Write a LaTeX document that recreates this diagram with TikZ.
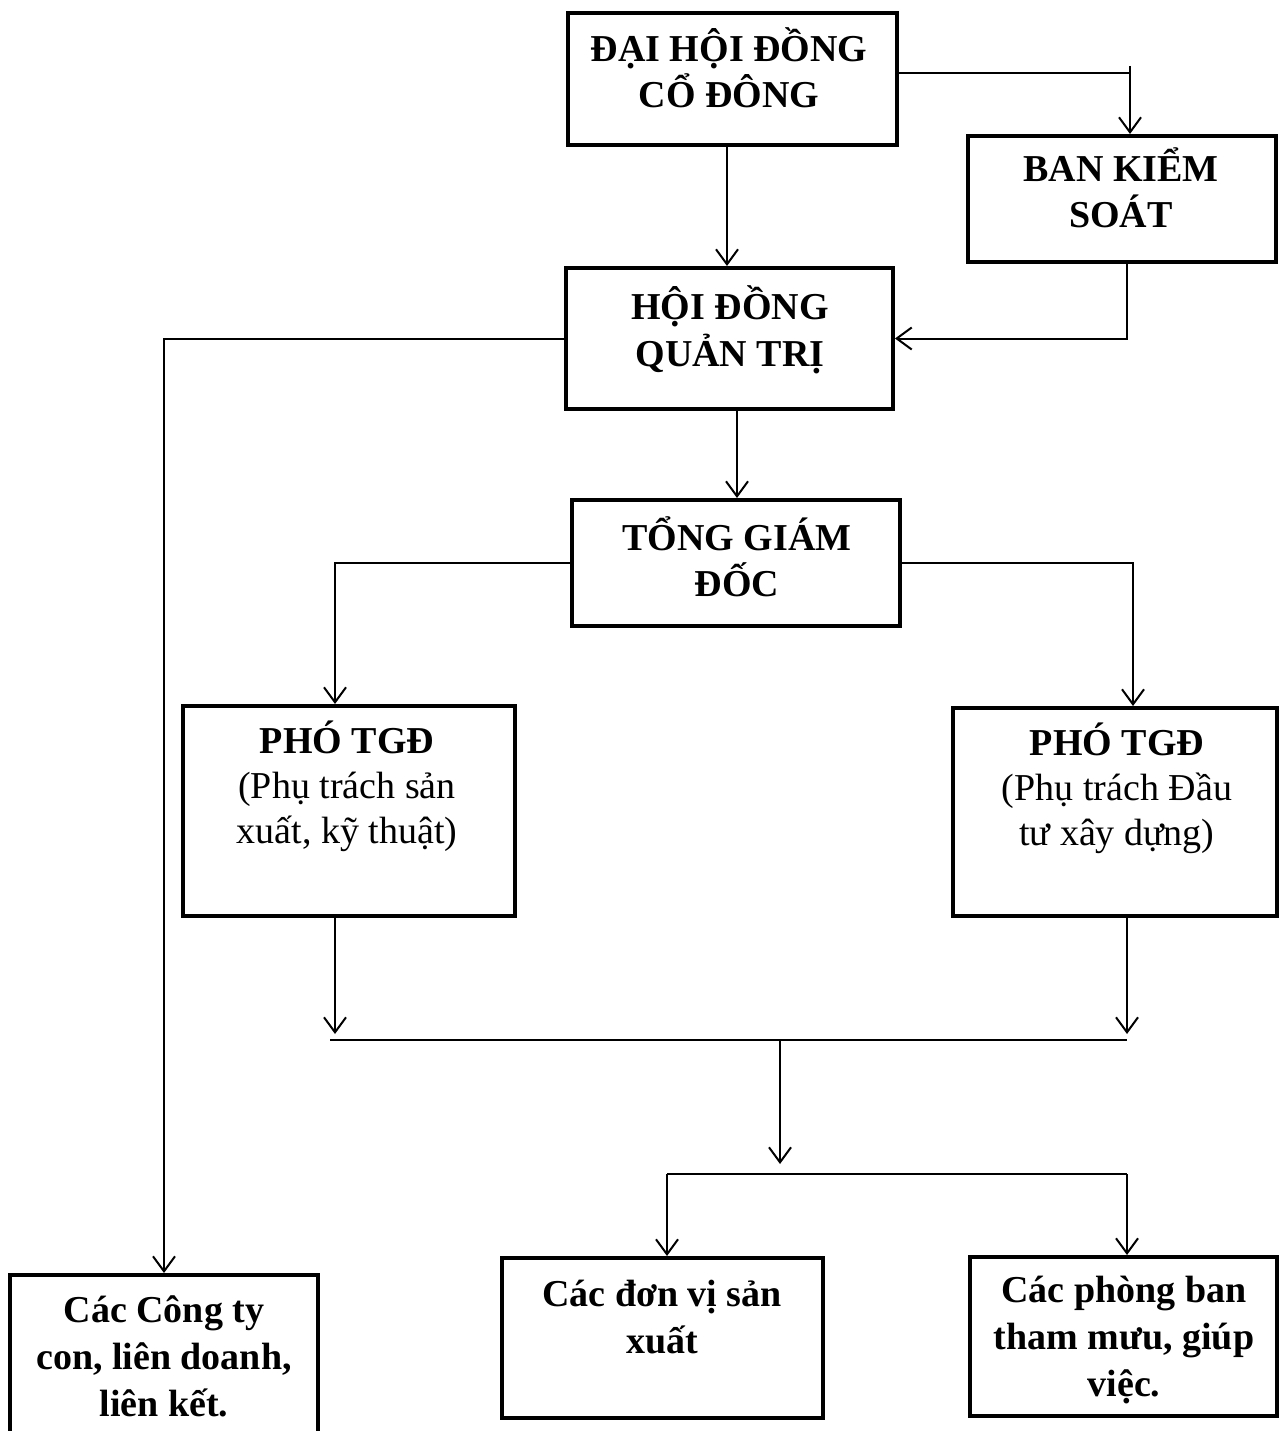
\documentclass[tikz,border=0pt]{standalone}
\usepackage{fontspec}
\setmainfont{Liberation Serif}
\usetikzlibrary{arrows.meta}
\tikzset{
  box/.style={draw=black, line width=4pt, rectangle, inner sep=0pt},
  lbl/.style={align=center, inner sep=0pt, font=\fontsize{38}{46}\selectfont\bfseries},
  lblb/.style={align=center, inner sep=0pt, font=\fontsize{38}{47}\selectfont\bfseries},
  lblr/.style={align=center, inner sep=0pt, font=\fontsize{38}{45}\selectfont},
  conn/.style={draw=black, line width=2pt},
  arr/.style={conn, -{Straight Barb[length=15pt,width=22pt,line width=2pt]}}
}
\begin{document}
\begin{tikzpicture}[x=1pt,y=-1pt]
\useasboundingbox (0,0) rectangle (1286,1431);
\fill[white] (0,0) rectangle (1286,1431);
% boxes
\node[box, minimum width=329pt, minimum height=132pt] (A) at (732.5,79) {};
\node[box, minimum width=308pt, minimum height=126pt] (B) at (1122,199) {};
\node[box, minimum width=327pt, minimum height=141pt] (C) at (729.5,338.5) {};
\node[box, minimum width=328pt, minimum height=126pt] (D) at (736,563) {};
\node[box, minimum width=332pt, minimum height=210pt] (E) at (349,811) {};
\node[box, minimum width=324pt, minimum height=208pt] (F) at (1115,812) {};
\node[box, minimum width=308pt, minimum height=170pt] (G) at (164,1360) {};
\node[box, minimum width=321pt, minimum height=160pt] (H) at (662.5,1338) {};
\node[box, minimum width=307pt, minimum height=159pt] (I) at (1123.5,1336.5) {};
% texts
\node[lbl] (tA) at (729,68) {ĐẠI HỘI ĐỒNG\\CỔ ĐÔNG};
\node[lbl] (tB) at (1121,188) {BAN KIỂM\\SOÁT};
\node[lblb] (tC) at (730,330) {HỘI ĐỒNG\\QUẢN TRỊ};
\node[lbl] (tD) at (737,557) {TỔNG GIÁM\\ĐỐC};
\node[lblr] (tE) at (347,786) {\textbf{PHÓ TGĐ}\\(Phụ trách sản\\xuất, kỹ thuật)};
\node[lblr] (tF) at (1117,788) {\textbf{PHÓ TGĐ}\\(Phụ trách Đầu\\tư xây dựng)};
\node[lblb] (tG) at (164,1356) {Các Công ty\\con, liên doanh,\\liên kết.};
\node[lblb] (tH) at (662,1317) {Các đơn vị sản\\xuất};
\node[lblb] (tI) at (1124,1340) {Các phòng ban\\tham mưu, giúp\\việc.};
% junction coordinates
\coordinate (kA) at (1130,73);
\coordinate (kT) at (1130,66);
\coordinate (L1) at (330,1040);
\coordinate (R1) at (1127,1040);
\coordinate (j1) at (780,1040);
\coordinate (L2) at (667,1174);
\coordinate (R2) at (1127,1174);
\coordinate (j2) at (780,1174);
% connectors
\draw[conn] (A.east |- kA) -- (kA);
\draw[arr] (kT) -- (kT |- B.north);
\draw[arr] (727,0 |- A.south) -- (727,0 |- C.north);
\draw[arr] (1127,0 |- B.south) |- (C.east);
\draw[arr] (C.west) -| (G.north);
\draw[arr] (737,0 |- C.south) -- (737,0 |- D.north);
\draw[arr] (D.west) -| (335,0 |- E.north);
\draw[arr] (D.east) -| (1133,0 |- F.north);
\draw[arr] (335,0 |- E.south) -- ([yshift=6pt]335,0 |- L1);
\draw[arr] (R1 |- F.south) -- ([yshift=6pt]R1);
\draw[conn] (L1) -- (R1);
\draw[arr] (j1) -- ([yshift=10pt]j2);
\draw[conn] (L2) -- (R2);
\draw[arr] (L2) -- (L2 |- H.north);
\draw[arr] (R2) -- (R2 |- I.north);
\end{tikzpicture}
\end{document}
